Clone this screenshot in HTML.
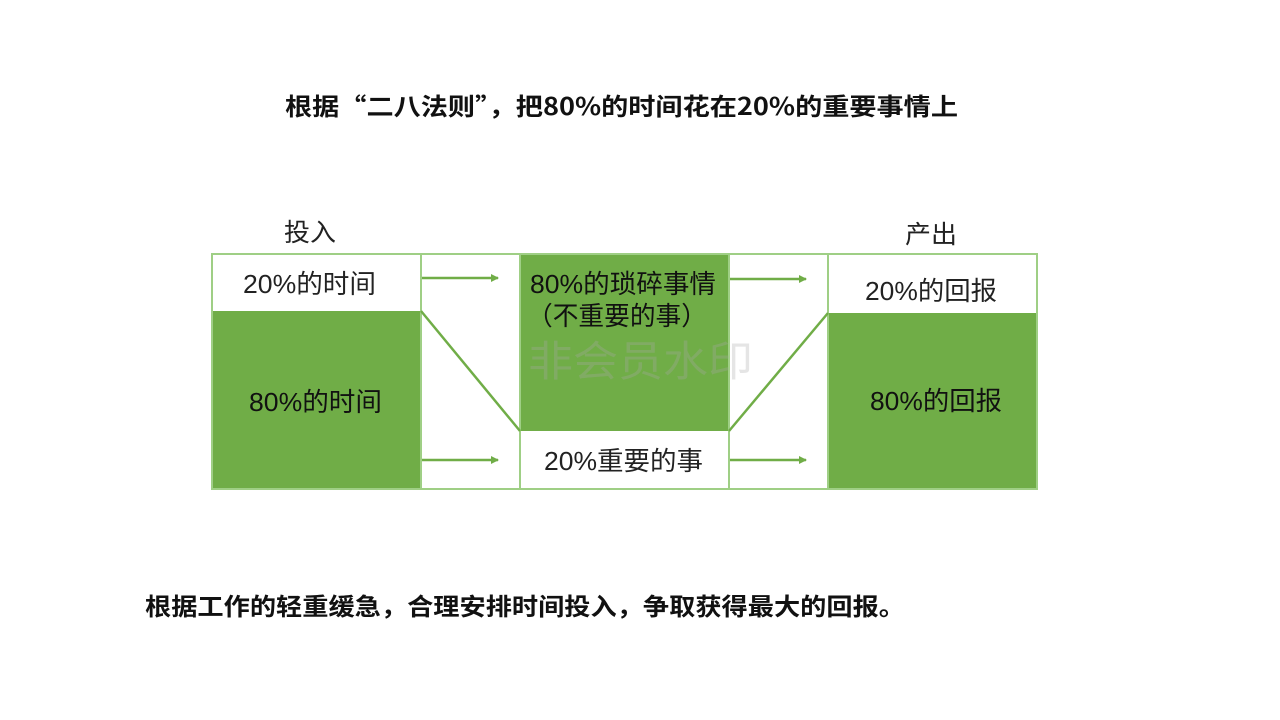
<!DOCTYPE html>
<html><head><meta charset="utf-8"><style>
body{margin:0;width:1280px;height:720px;background:#fff;overflow:hidden;font-family:"Liberation Sans","Noto Sans CJK SC",sans-serif}
svg{position:absolute;left:0;top:0}
</style></head><body>
<svg width="1280" height="720" xmlns="http://www.w3.org/2000/svg" font-family="Liberation Sans, Noto Sans CJK SC, sans-serif">
<defs><marker id="a" markerWidth="8" markerHeight="8" refX="7" refY="4" orient="auto" markerUnits="userSpaceOnUse"><path d="M0,0 L8,4 L0,8 Z" fill="#70ad47"/></marker></defs>
<text x="285" y="115" font-size="24" font-weight="bold" fill="#111" textLength="673" lengthAdjust="spacingAndGlyphs" font-family="Noto Sans CJK SC, sans-serif">根据“二八法则”，把80%的时间花在20%的重要事情上</text>
<text x="284" y="241" font-size="25" fill="#222" textLength="52" lengthAdjust="spacingAndGlyphs">投入</text>
<text x="905" y="243" font-size="25" fill="#222" textLength="52" lengthAdjust="spacingAndGlyphs">产出</text>
<rect x="212" y="311" width="209" height="178" fill="#70ad47"/>
<rect x="520" y="254" width="209" height="177" fill="#70ad47"/>
<rect x="828" y="313" width="209" height="176" fill="#70ad47"/>
<g stroke="#9fcf85" stroke-width="2" fill="none">
<rect x="212" y="254" width="825" height="235"/>
<line x1="421" y1="254" x2="421" y2="489"/><line x1="520" y1="254" x2="520" y2="489"/>
<line x1="729" y1="254" x2="729" y2="489"/><line x1="828" y1="254" x2="828" y2="489"/>
</g>
<g stroke="#70ad47" stroke-width="2.5" fill="none">
<line x1="421" y1="311" x2="520" y2="431"/><line x1="729" y1="431" x2="828" y2="313"/>
<line x1="422" y1="278" x2="498" y2="278" marker-end="url(#a)"/>
<line x1="422" y1="460" x2="498" y2="460" marker-end="url(#a)"/>
<line x1="730" y1="279" x2="806" y2="279" marker-end="url(#a)"/>
<line x1="730" y1="460" x2="806" y2="460" marker-end="url(#a)"/>
</g>
<g font-size="26" fill="#222">
<text x="243" y="293" textLength="133" lengthAdjust="spacingAndGlyphs">20%的时间</text>
<text x="249" y="411" fill="#111" textLength="133" lengthAdjust="spacingAndGlyphs">80%的时间</text>
<text x="530" y="293" fill="#111" textLength="186" lengthAdjust="spacingAndGlyphs">80%的琐碎事情</text>
<text x="527" y="325" fill="#111" textLength="180" lengthAdjust="spacingAndGlyphs" font-family="Noto Sans CJK SC, sans-serif">（不重要的事）</text>
<text x="544" y="470" textLength="159" lengthAdjust="spacingAndGlyphs">20%重要的事</text>
<text x="865" y="300" textLength="132" lengthAdjust="spacingAndGlyphs">20%的回报</text>
<text x="870" y="410" fill="#111" textLength="132" lengthAdjust="spacingAndGlyphs">80%的回报</text>
<text x="528" y="376" font-size="42" fill="#aaa" fill-opacity="0.3" textLength="225" lengthAdjust="spacingAndGlyphs">非会员水印</text>
</g>
<text x="145" y="615" font-size="24" font-weight="bold" fill="#111" textLength="760" lengthAdjust="spacingAndGlyphs" font-family="Noto Sans CJK SC, sans-serif">根据工作的轻重缓急，合理安排时间投入，争取获得最大的回报。</text>
</svg>
</body></html>
